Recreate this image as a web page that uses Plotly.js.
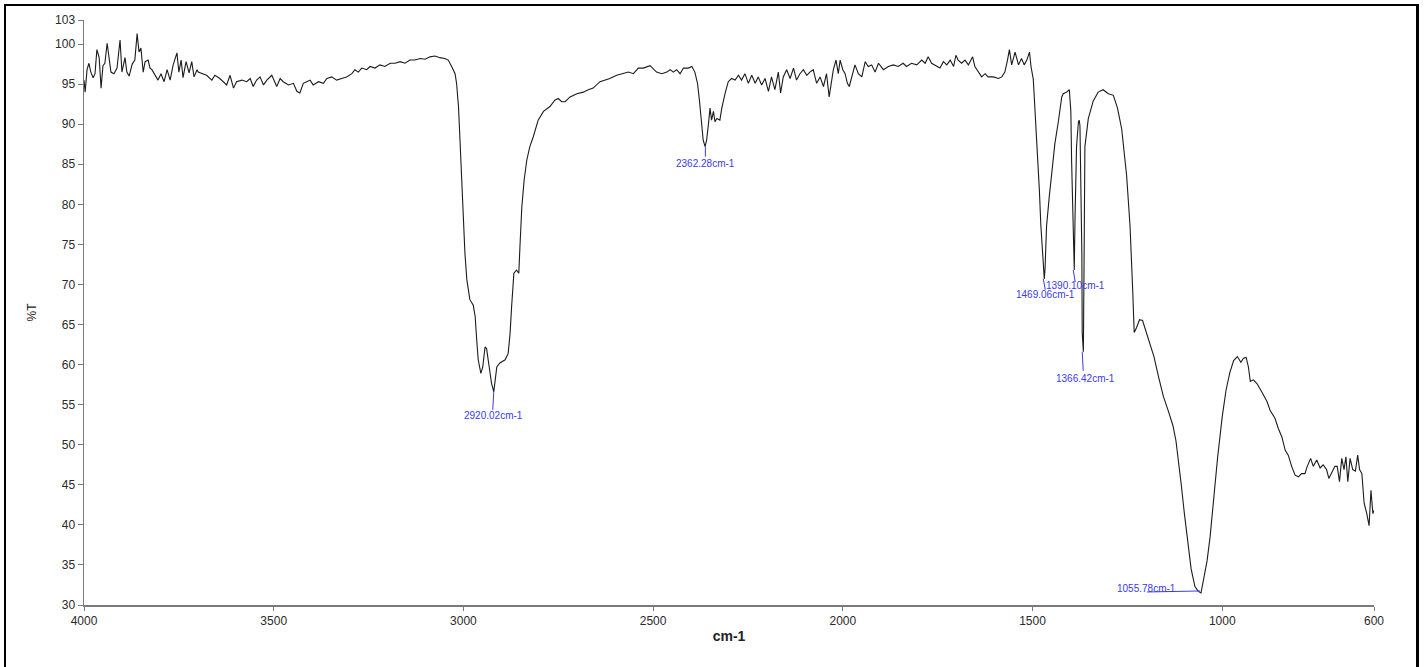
<!DOCTYPE html>
<html>
<head>
<meta charset="utf-8">
<script src="https://cdn.plot.ly/plotly-3.0.1.min.js"></script>
<style>
html,body{margin:0;padding:0;background:#fff;overflow:hidden;}
#chart{position:absolute;left:0;top:0;width:1425px;height:667px;}
#frame{position:absolute;left:4px;top:4px;width:1415px;height:720px;box-sizing:border-box;
border-left:2px solid #000;border-top:2px solid #000;border-right:3px solid #000;pointer-events:none;}
</style>
</head>
<body>
<div id="chart"></div>
<div id="frame"></div>
<script>
// Wavenumber (cm-1) and transmittance (%T)
const wavenumber = [
4000,3997,3992,3987,3982,3976,3971,3966,3960,3955,3950,3945,3939,3934,3929,3921,3913,3905,3900,3892,
3887,3881,3873,3866,3860,3855,3850,3844,3839,3831,3826,3821,3813,3805,3797,3789,3781,3773,3765,3755,
3750,3744,3739,3731,3723,3716,3710,3702,3699,3690,3677,3663,3655,3642,3624,3615,3606,3598,3584,3571,
3562,3554,3545,3536,3527,3518,3505,3492,3483,3475,3461,3448,3439,3431,3422,3413,3404,3396,3382,3369,
3360,3347,3334,3321,3308,3294,3286,3277,3268,3255,3246,3233,3220,3207,3193,3180,3167,3154,3141,3128,
3114,3101,3088,3075,3062,3049,3040,3031,3022,3018,3013,3009,3005,3000,2996,2991,2983,2974,2969,2965,
2961,2954,2949,2943,2939,2932,2926,2920,2917,2912,2904,2890,2882,2877,2873,2867,2860,2854,2851,2846,
2840,2833,2825,2816,2803,2789,2772,2759,2750,2741,2732,2719,2701,2684,2671,2658,2640,2627,2614,2596,
2583,2565,2552,2539,2526,2508,2491,2477,2464,2455,2447,2438,2429,2420,2407,2398,2390,2383,2378,2372,
2368,2363,2359,2354,2350,2346,2341,2337,2332,2324,2319,2310,2302,2293,2284,2275,2267,2258,2249,2240,
2231,2223,2214,2205,2196,2188,2179,2170,2164,2157,2148,2139,2130,2122,2113,2104,2095,2087,2078,2069,
2060,2051,2043,2036,2029,2025,2018,2012,2007,2000,1994,1988,1983,1977,1968,1959,1950,1941,1933,1924,
1915,1906,1893,1880,1867,1854,1841,1832,1819,1805,1792,1783,1775,1766,1753,1744,1735,1726,1717,1708,
1702,1696,1687,1678,1669,1658,1652,1643,1634,1625,1617,1603,1590,1581,1573,1566,1561,1555,1546,1537,
1529,1522,1515,1508,1504,1498,1493,1487,1482,1478,1473,1469,1467,1463,1456,1449,1441,1432,1423,1419,
1410,1403,1399,1397,1394,1392,1390,1388,1384,1379,1377,1375,1372,1370,1369,1366,1364,1362,1353,1340,
1327,1314,1300,1287,1276,1265,1252,1243,1236,1232,1226,1218,1210,1200,1190,1180,1168,1155,1142,1130,
1122,1115,1108,1100,1092,1082,1072,1063,1056,1050,1040,1032,1022,1012,1000,990,980,970,960,951,
944,937,931,926,918,908,896,882,874,861,852,843,834,826,817,808,799,791,782,776,
767,760,751,742,734,725,719,712,703,697,691,685,679,674,669,663,656,649,643,638,
632,626,619,613,608,603,600
];
const transmittance = [
95.5,94.0,96.8,97.6,96.5,95.8,96.3,99.3,98.3,94.5,97.3,97.6,100.1,98.3,96.5,96.3,97.0,100.5,96.5,98.3,
96.5,96.0,97.5,98.0,101.3,99.0,99.5,96.5,97.8,98.0,97.0,96.8,96.1,95.5,96.3,95.3,96.8,95.5,97.4,98.9,
96.5,98.0,95.8,97.8,96.4,97.8,95.9,96.8,96.5,96.3,96.1,95.5,96.1,95.7,94.9,96.1,94.5,95.3,95.5,95.3,
95.7,94.7,95.5,95.9,94.9,95.5,96.1,94.7,95.7,95.3,94.9,95.1,94.1,93.9,95.1,95.3,95.5,94.9,95.3,95.1,
95.7,95.9,95.5,95.7,95.9,96.3,96.8,96.5,97.0,96.8,97.2,97.0,97.4,97.2,97.6,97.6,97.8,97.6,98.0,98.0,
98.2,98.1,98.4,98.5,98.3,98.2,98.0,97.2,96.3,95.1,92.2,88.0,83.0,78.0,73.9,70.6,68.1,67.4,66.0,63.1,
60.6,58.9,59.7,62.2,62.0,59.7,57.7,56.6,58.0,59.7,60.2,60.6,61.4,63.9,67.2,71.4,71.8,71.4,74.7,79.7,
83.0,85.5,87.2,88.4,90.5,91.6,92.2,93.0,93.2,92.8,92.8,93.4,93.8,94.0,94.3,94.5,95.3,95.5,95.7,96.1,
96.3,96.5,96.3,97.0,97.0,97.3,96.5,96.3,96.5,96.8,96.5,96.8,96.3,97.0,97.0,97.2,96.5,95.1,93.0,90.1,
88.0,87.2,88.0,90.1,92.0,90.5,91.6,90.3,90.7,90.5,92.0,93.9,95.3,95.7,95.5,96.1,95.5,96.3,95.1,96.1,
95.1,95.9,94.9,95.7,94.1,95.9,94.3,96.5,93.9,95.9,96.8,95.7,97.0,95.5,96.3,96.8,96.1,96.5,96.8,95.1,
95.9,94.7,96.3,93.4,95.9,96.8,98.0,96.3,98.0,96.8,96.3,95.1,94.7,95.9,97.4,96.3,95.9,97.8,97.2,97.4,
96.5,97.6,96.8,97.2,97.4,97.2,97.6,97.2,97.6,97.4,98.0,97.6,98.4,97.6,97.2,97.0,97.8,97.4,98.0,97.2,
98.6,98.0,97.6,98.0,97.4,98.4,97.2,96.5,95.9,96.3,95.9,95.9,95.7,95.9,96.5,98.0,99.3,97.4,99.0,97.4,
98.2,97.4,98.0,99.0,97.2,95.6,91.6,87.2,81.8,77.3,73.8,70.7,72.0,77.3,80.9,84.5,87.6,90.3,93.4,93.8,
94.0,94.3,91.6,85.4,77.3,73.8,71.8,78.2,87.2,90.3,90.5,89.8,82.7,73.8,63.9,61.6,73.8,87.2,90.7,92.9,
94.0,94.3,93.8,93.6,92.0,89.4,83.6,77.3,69.3,64.0,64.6,65.6,65.5,64.0,62.6,61.0,58.5,56.0,54.2,52.4,
50.5,48.0,45.0,41.5,38.0,34.5,32.3,31.7,31.5,33.0,35.5,38.5,43.5,48.5,53.5,56.8,59.0,60.5,61.0,60.3,
60.8,60.9,59.7,57.9,58.1,57.6,56.6,55.4,54.3,53.3,52.0,51.0,49.3,48.7,47.3,46.2,46.0,46.4,46.4,47.3,
48.3,47.3,48.1,47.1,47.5,46.9,45.8,46.4,47.3,47.3,45.4,48.3,46.9,48.5,45.4,48.3,46.9,46.7,48.7,46.9,
46.4,42.7,41.4,39.9,44.3,41.4,41.8
];

// Labelled peaks
const peakWn = [2920.02, 2362.28, 1469.06, 1390.10, 1366.42, 1055.78];
const peakT = [56.6, 87.2, 70.7, 71.8, 61.6, 31.5];
const peakLabels = ['2920.02cm-1', '2362.28cm-1', '1469.06cm-1', '1390.10cm-1', '1366.42cm-1', '1055.78cm-1'];

// Axis ticks
const xTickVals = [4000, 3500, 3000, 2500, 2000, 1500, 1000, 600];
const yTickVals = [30, 35, 40, 45, 50, 55, 60, 65, 70, 75, 80, 85, 90, 95, 100, 103];

// label placement (pixels relative to peak) and leader lines
const labelShift = [[0,-24],[0,-16.5],[1.5,-15.5],[1.5,-15.5],[2,-26.5],[-54.5,4.5]];
const leader = [[0,-1,0,-18],[0,0,0,-10],[-1,1,0,-11],[-1,1,0,-12],[-1,0,0,-19],[-1,-54,2,1]];

const labelColor = '#3a3af2';
const annotations = peakWn.map((w,i)=>({
  x: w, y: peakT[i], xref:'x', yref:'y', text: peakLabels[i], showarrow:false,
  xshift: labelShift[i][0], yshift: labelShift[i][1],
  font:{family:'Liberation Sans, Arial, sans-serif', size:10, color:labelColor}
}));
const shapes = peakWn.map((w,i)=>({
  type:'line', xref:'x', yref:'y', xsizemode:'pixel', ysizemode:'pixel',
  xanchor: w, yanchor: peakT[i],
  x0: leader[i][0], x1: leader[i][1], y0: leader[i][2], y1: leader[i][3],
  line:{color:labelColor, width:1}
}));

const trace = {
  x: wavenumber, y: transmittance, type:'scatter', mode:'lines',
  line:{color:'#1c1c1c', width:1.1}, hoverinfo:'skip'
};

const axisFont = {family:'Liberation Sans, Arial, sans-serif', size:12, color:'#2a2a2a'};
const layout = {
  width:1425, height:667,
  margin:{l:84, r:51, t:20, b:62, pad:0},
  paper_bgcolor:'rgba(0,0,0,0)', plot_bgcolor:'#fff',
  showlegend:false,
  xaxis:{
    range:[4000,600], tickmode:'array', tickvals:xTickVals, ticktext:xTickVals.map(String),
    showgrid:false, zeroline:false, showline:true, linecolor:'#7a7a7a', linewidth:1.5,
    ticks:'outside', ticklen:4, tickcolor:'#7a7a7a', tickwidth:1, tickfont:axisFont,
    title:{text:'cm-1', font:{family:'Liberation Sans, Arial, sans-serif', size:14, color:'#222', weight:'bold'}, standoff:4}
  },
  yaxis:{
    range:[30,103], tickmode:'array', tickvals:yTickVals, ticktext:yTickVals.map(String),
    showgrid:false, zeroline:false, showline:true, linecolor:'#7a7a7a', linewidth:1.5,
    ticks:'outside', ticklen:5, tickcolor:'#7a7a7a', tickwidth:1, tickfont:axisFont,
    title:{text:'%T', font:{family:'Liberation Sans, Arial, sans-serif', size:12, color:'#222'}, standoff:16}
  },
  annotations: annotations,
  shapes: shapes
};

Plotly.newPlot('chart', [trace], layout, {displayModeBar:false, staticPlot:true});
</script>
</body>
</html>
